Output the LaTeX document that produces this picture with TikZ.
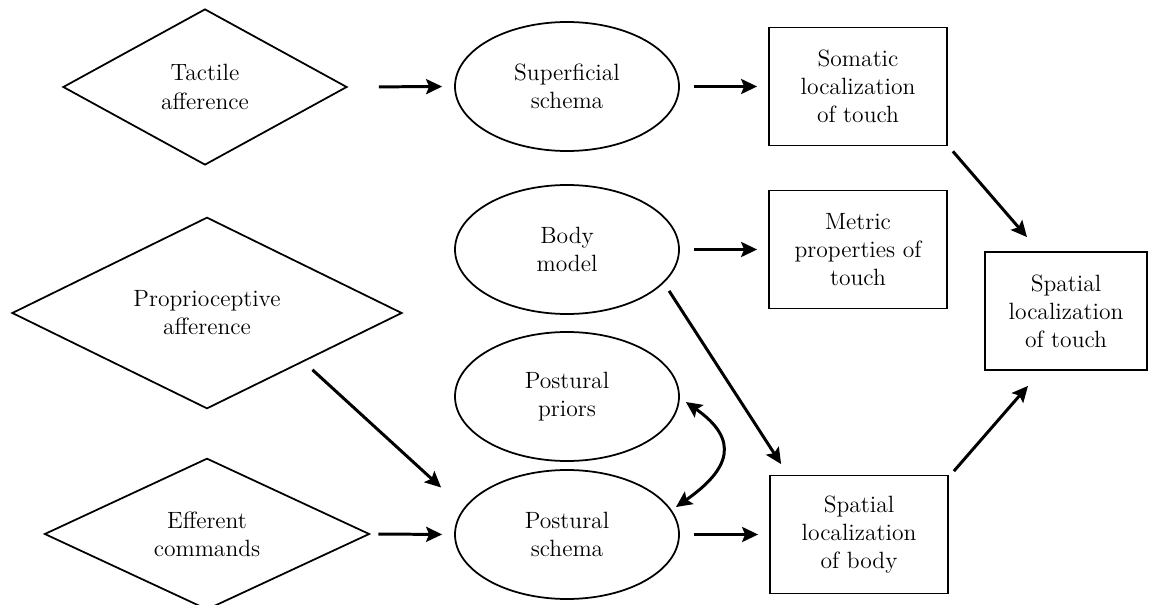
\documentclass[tikz,border=0pt]{standalone}
\usepackage{fontspec}
\usepackage{tikz}
\usetikzlibrary{shapes.geometric,arrows.meta,positioning}

\begin{document}
\begin{tikzpicture}[node distance=2cm, auto,
    font=\fontsize{13.4}{16}\selectfont,
    headtip/.tip={Stealth[length=3.2mm,width=3mm,inset=0.6mm]},
    afference/.style={draw, diamond, line width=1pt, inner sep=0pt, align=center},
    schema/.style={draw, ellipse, line width=1pt, minimum width=4.48cm, minimum height=2.58cm, inner sep=0pt, align=center},
    outcome/.style={draw, rectangle, line width=1pt, minimum width=3.56cm, minimum height=2.36cm, inner sep=0pt, align=center},
    link/.style={-headtip, line width=1.7pt},
    twoway/.style={headtip-headtip, line width=1.7pt}]
    \useasboundingbox (0,0) rectangle (23.12,-12.1);

    % inputs
    \node[afference, minimum width=5.68cm, minimum height=3.12cm] (tactile) at (4.10,-1.74) {Tactile\\afference};
    \node[afference, minimum width=7.8cm, minimum height=3.26cm] (proprio) at (4.14,-6.26) {Proprioceptive\\afference};
    \node[afference, minimum width=6.5cm, minimum height=2.92cm] (efferent) at (4.14,-10.68) {Efferent\\commands};

    % body representations
    \node[schema] (superficial) at (11.34,-1.73) {Superficial\\schema};
    \node[schema, node distance=3.26cm, below of=superficial] (bodymodel) {Body\\model};
    \node[schema, node distance=2.94cm, below of=bodymodel] (priors) {Postural\\priors};
    \node[schema, node distance=2.76cm, below of=priors] (postural) {Postural\\schema};

    % outputs
    \node[outcome, node distance=5.82cm, right of=superficial] (somatic) {Somatic\\localization\\of touch};
    \node[outcome, node distance=5.82cm, right of=bodymodel] (metric) {Metric\\properties of\\touch};
    \node[outcome, node distance=5.84cm, right of=postural] (bodyloc) {Spatial\\localization\\of body};
    \node[outcome, minimum width=3.24cm] (touchloc) at (21.32,-6.22) {Spatial\\localization\\of touch};

    \draw[link, shorten <=0.62cm, shorten >=0.24cm] (tactile.east) -- (superficial.west);
    \draw[link, shorten <=0.28cm, shorten >=0.22cm] (superficial.east) -- (somatic.west);
    \draw[link, shorten <=0.28cm, shorten >=0.22cm] (bodymodel.east) -- (metric.west);
    \draw[link, shorten <=0.28cm, shorten >=0.22cm] (postural.east) -- (bodyloc.west);
    \draw[link, shorten <=0.16cm, shorten >=0.24cm] (efferent.east) -- (postural.west);

    \draw[link] ([xshift=0.15cm,yshift=-0.17cm]proprio.south east) -- ([xshift=-0.26cm,yshift=0.94cm]postural.west);
    \draw[link] ([xshift=0.19cm,yshift=-0.08cm]bodymodel.-22) -- ([xshift=0.24cm,yshift=0.21cm]bodyloc.north west);
    \draw[link] ([xshift=0.1cm,yshift=-0.1cm]somatic.south east) -- ([xshift=-0.78cm,yshift=0.28cm]touchloc.north);
    \draw[link] ([xshift=0.1cm,yshift=0.07cm]bodyloc.north east) -- ([xshift=-0.76cm,yshift=-0.3cm]touchloc.south);

    \draw[twoway] ([xshift=0.12cm,yshift=-0.11cm]priors.east) to[out=-35, in=35, looseness=1.6] ([xshift=0.13cm]postural.15);
\end{tikzpicture}
\end{document}
